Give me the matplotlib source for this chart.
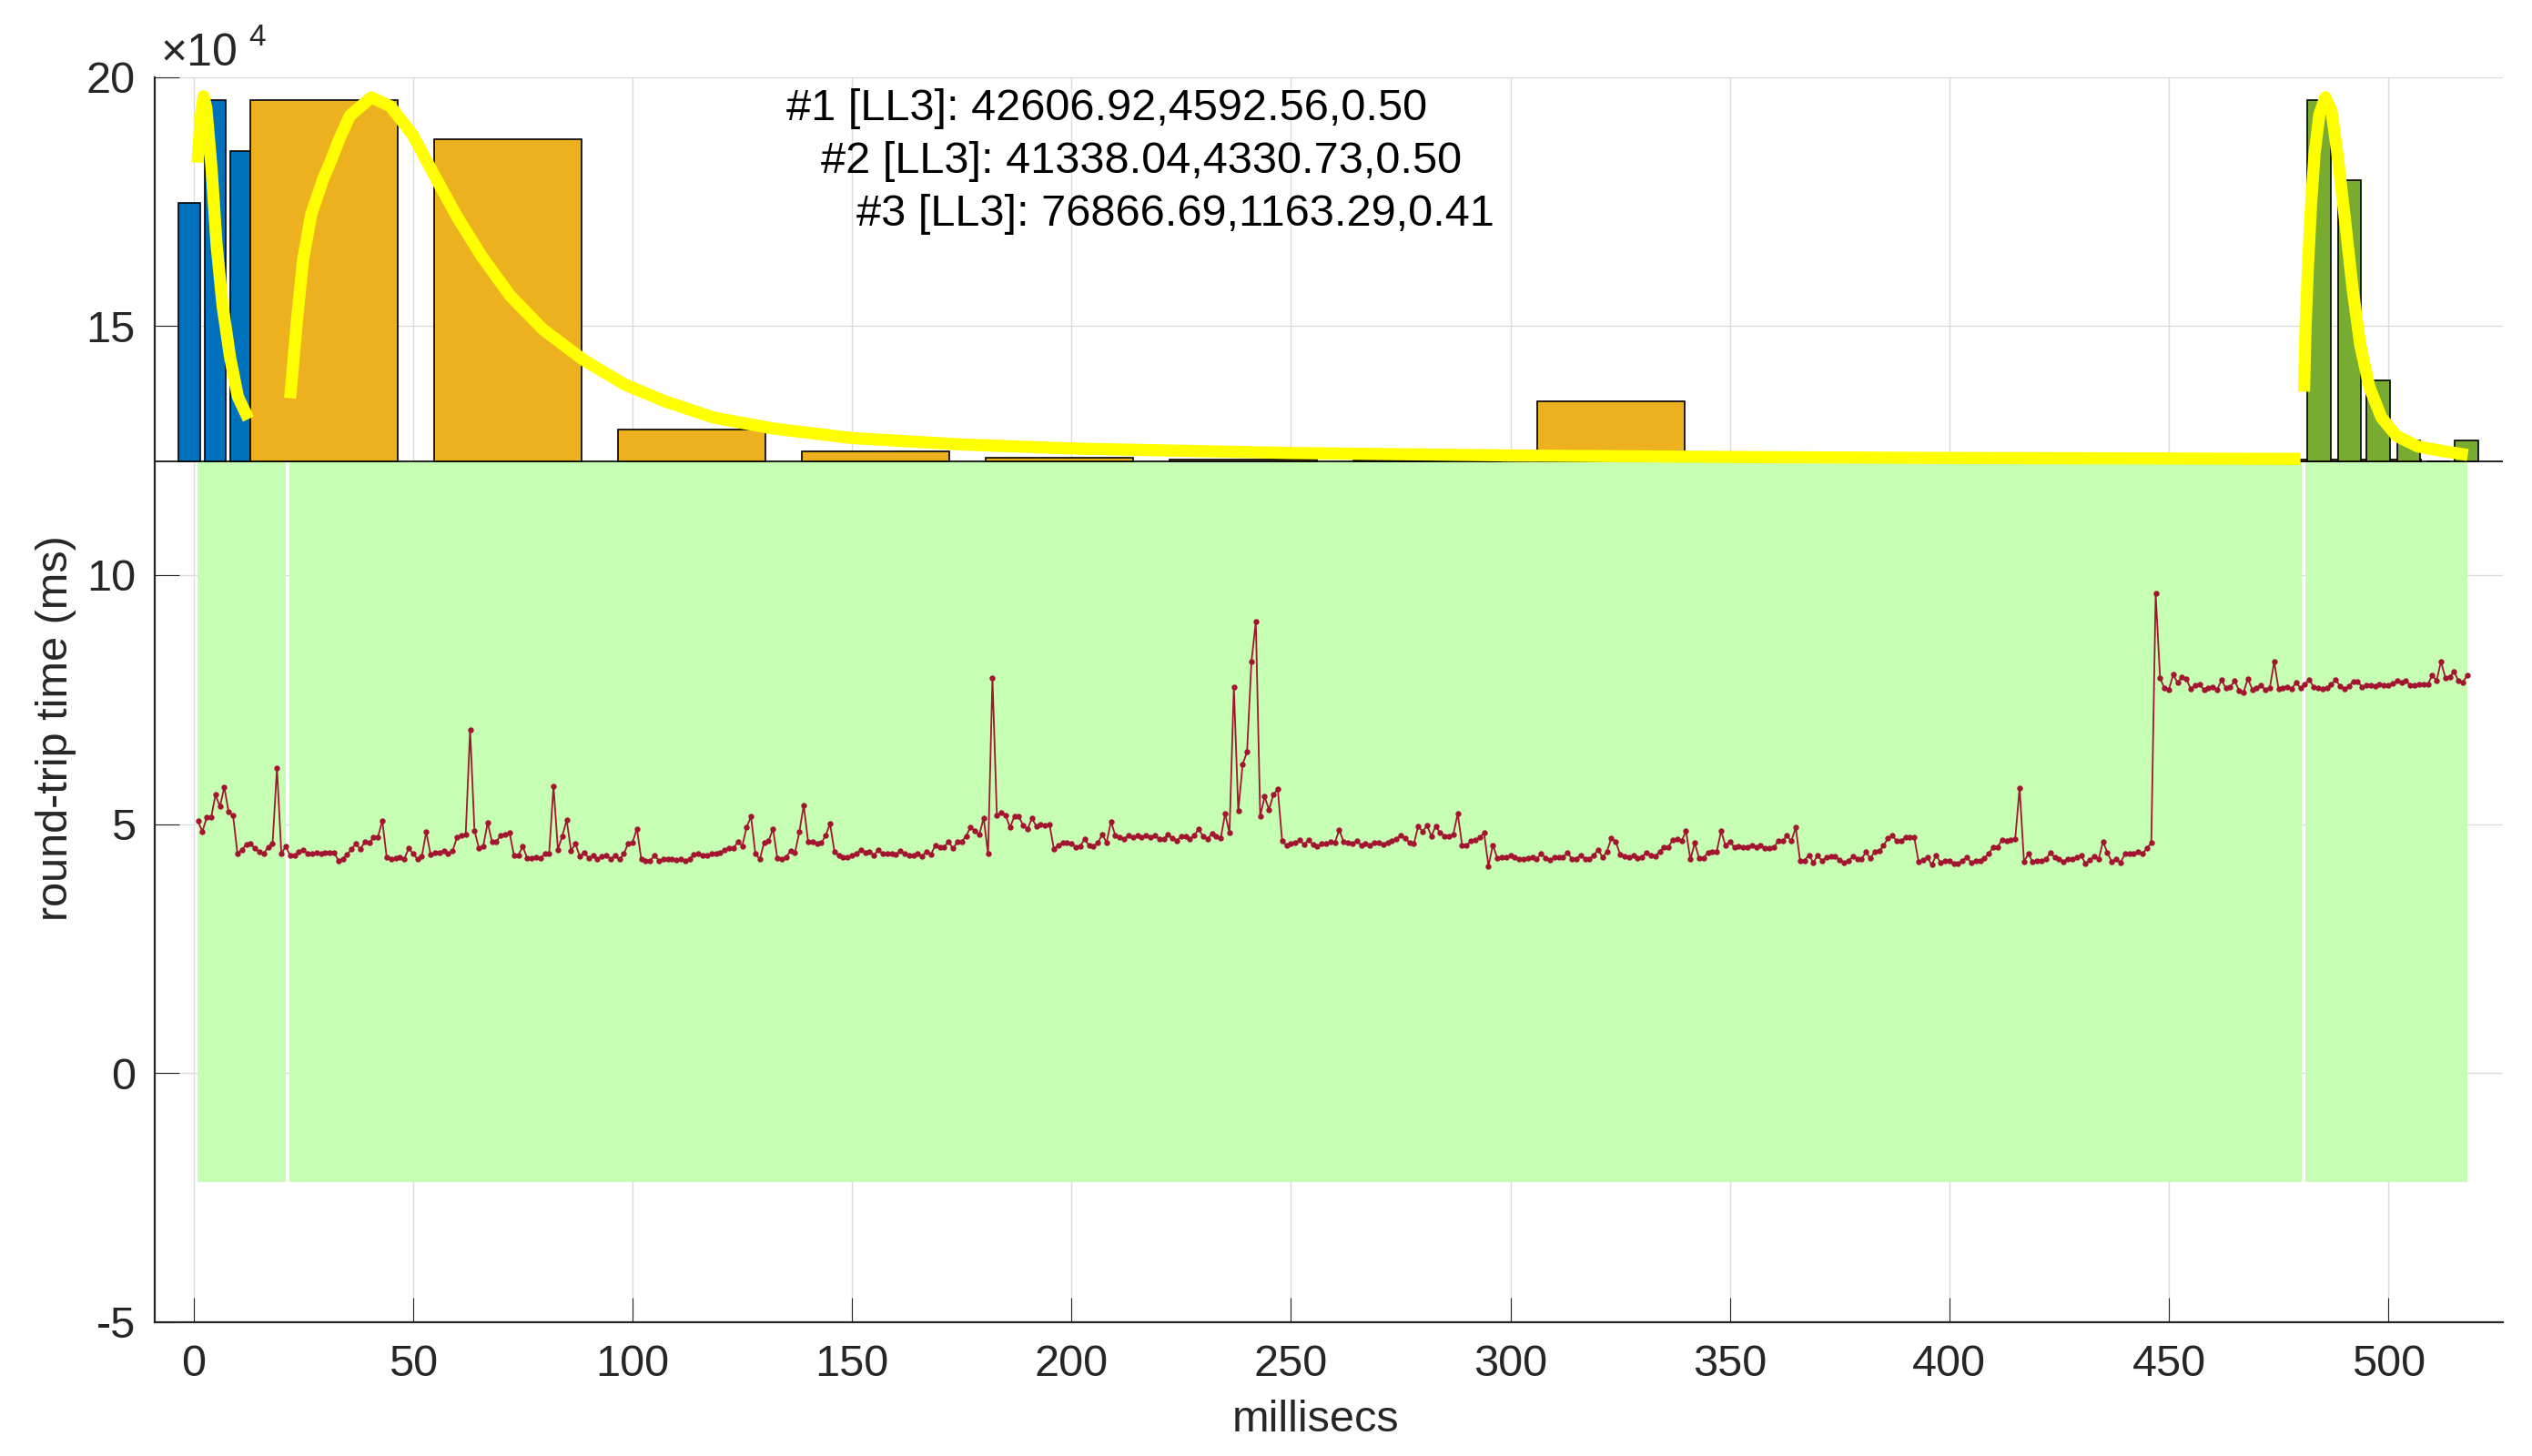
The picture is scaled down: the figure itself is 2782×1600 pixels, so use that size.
import numpy as np
import matplotlib
matplotlib.use('Agg')
import matplotlib.pyplot as plt
from matplotlib.patches import Rectangle

plt.rcParams['font.family'] = ['Liberation Sans', 'DejaVu Sans']
plt.rcParams['axes.unicode_minus'] = False

# round-trip time samples (ms), one per millisec starting at 1
rtt = [
    5.06, 4.85, 5.13, 5.13, 5.59, 5.35, 5.74, 5.24, 5.17, 4.41,
    4.49, 4.59, 4.60, 4.51, 4.44, 4.41, 4.54, 4.61, 6.13, 4.41,
    4.55, 4.37, 4.37, 4.45, 4.49, 4.40, 4.40, 4.43, 4.40, 4.43,
    4.43, 4.43, 4.27, 4.30, 4.39, 4.50, 4.60, 4.50, 4.64, 4.62,
    4.73, 4.74, 5.07, 4.33, 4.30, 4.32, 4.33, 4.30, 4.51, 4.41,
    4.30, 4.35, 4.84, 4.39, 4.43, 4.43, 4.46, 4.41, 4.46, 4.73,
    4.77, 4.80, 6.90, 4.87, 4.52, 4.56, 5.03, 4.64, 4.65, 4.78,
    4.80, 4.82, 4.37, 4.38, 4.55, 4.32, 4.32, 4.33, 4.31, 4.40,
    4.40, 5.76, 4.49, 4.76, 5.08, 4.47, 4.60, 4.35, 4.43, 4.32,
    4.37, 4.29, 4.35, 4.38, 4.30, 4.37, 4.29, 4.40, 4.61, 4.63,
    4.91, 4.29, 4.27, 4.26, 4.37, 4.27, 4.29, 4.29, 4.29, 4.28,
    4.29, 4.26, 4.30, 4.39, 4.40, 4.38, 4.38, 4.40, 4.40, 4.43,
    4.48, 4.51, 4.51, 4.65, 4.56, 4.94, 5.15, 4.40, 4.30, 4.63,
    4.66, 4.91, 4.31, 4.30, 4.34, 4.46, 4.42, 4.84, 5.38, 4.65,
    4.65, 4.60, 4.62, 4.77, 5.01, 4.45, 4.37, 4.33, 4.33, 4.38,
    4.41, 4.48, 4.43, 4.45, 4.38, 4.48, 4.40, 4.40, 4.41, 4.39,
    4.46, 4.40, 4.38, 4.38, 4.40, 4.36, 4.45, 4.39, 4.58, 4.54,
    4.54, 4.65, 4.51, 4.64, 4.65, 4.76, 4.94, 4.86, 4.79, 5.12,
    4.40, 7.94, 5.18, 5.23, 5.18, 4.93, 5.16, 5.15, 4.98, 4.90,
    5.12, 4.95, 5.00, 4.97, 4.99, 4.50, 4.58, 4.62, 4.62, 4.61,
    4.54, 4.56, 4.70, 4.57, 4.56, 4.62, 4.79, 4.63, 5.05, 4.77,
    4.74, 4.70, 4.77, 4.73, 4.77, 4.73, 4.77, 4.73, 4.77, 4.70,
    4.70, 4.79, 4.71, 4.66, 4.76, 4.75, 4.70, 4.78, 4.90, 4.75,
    4.70, 4.81, 4.76, 4.71, 5.21, 4.82, 7.76, 5.26, 6.20, 6.45,
    8.26, 9.06, 5.16, 5.55, 5.29, 5.59, 5.70, 4.66, 4.57, 4.60,
    4.63, 4.68, 4.59, 4.68, 4.59, 4.55, 4.60, 4.60, 4.64, 4.63,
    4.88, 4.65, 4.63, 4.60, 4.66, 4.58, 4.60, 4.58, 4.63, 4.63,
    4.59, 4.63, 4.66, 4.70, 4.77, 4.71, 4.63, 4.60, 4.96, 4.85,
    4.97, 4.76, 4.96, 4.82, 4.76, 4.76, 4.80, 5.21, 4.57, 4.57,
    4.66, 4.68, 4.73, 4.82, 4.16, 4.58, 4.32, 4.33, 4.33, 4.37,
    4.34, 4.30, 4.30, 4.32, 4.34, 4.30, 4.41, 4.32, 4.28, 4.33,
    4.33, 4.33, 4.43, 4.30, 4.30, 4.38, 4.30, 4.30, 4.37, 4.49,
    4.33, 4.45, 4.72, 4.65, 4.39, 4.35, 4.34, 4.37, 4.32, 4.34,
    4.43, 4.38, 4.35, 4.45, 4.54, 4.54, 4.69, 4.70, 4.66, 4.86,
    4.29, 4.62, 4.31, 4.32, 4.43, 4.44, 4.45, 4.86, 4.57, 4.65,
    4.54, 4.55, 4.53, 4.54, 4.58, 4.54, 4.57, 4.51, 4.51, 4.53,
    4.66, 4.66, 4.77, 4.66, 4.93, 4.26, 4.27, 4.38, 4.23, 4.37,
    4.26, 4.34, 4.35, 4.35, 4.28, 4.23, 4.26, 4.35, 4.30, 4.30,
    4.44, 4.31, 4.45, 4.46, 4.57, 4.71, 4.77, 4.66, 4.67, 4.73,
    4.73, 4.73, 4.24, 4.28, 4.33, 4.18, 4.38, 4.22, 4.26, 4.26,
    4.20, 4.20, 4.27, 4.34, 4.22, 4.27, 4.27, 4.32, 4.41, 4.54,
    4.54, 4.68, 4.66, 4.68, 4.70, 5.73, 4.25, 4.40, 4.24, 4.26,
    4.27, 4.29, 4.43, 4.33, 4.30, 4.25, 4.30, 4.30, 4.33, 4.37,
    4.21, 4.28, 4.35, 4.29, 4.65, 4.43, 4.24, 4.30, 4.23, 4.40,
    4.41, 4.41, 4.45, 4.40, 4.52, 4.62, 9.63, 7.93, 7.73, 7.70,
    8.00, 7.84, 7.96, 7.91, 7.71, 7.79, 7.80, 7.70, 7.73, 7.75,
    7.70, 7.89, 7.73, 7.75, 7.88, 7.68, 7.64, 7.92, 7.70, 7.73,
    7.79, 7.69, 7.73, 8.26, 7.71, 7.74, 7.76, 7.72, 7.84, 7.73,
    7.80, 7.90, 7.75, 7.73, 7.71, 7.74, 7.80, 7.90, 7.77, 7.71,
    7.77, 7.86, 7.86, 7.76, 7.79, 7.78, 7.77, 7.81, 7.79, 7.78,
    7.82, 7.87, 7.84, 7.88, 7.79, 7.79, 7.80, 7.81, 7.80, 7.99,
    7.88, 8.26, 7.94, 7.96, 8.06, 7.87, 7.85, 7.99,
]
t = np.arange(1, len(rtt) + 1)

# segments (green shading)
seg_start = [0.9, 21.9, 481.1]
seg_end = [21.1, 480.3, 518.1]
seg_low, seg_high = -2.19, 12.29

# histograms drawn on top of the segments (bar tops, same y units)
hist_base = 12.29
blue_x = [-0.98, 4.87, 10.70]
blue_top = [17.47, 19.54, 18.52]
orange_x = [29.65, 71.55, 113.45, 155.35, 197.25, 239.15, 281.05,
            322.95, 364.85, 406.75, 448.65, 490.55]
orange_top = [19.54, 18.75, 12.93, 12.48, 12.36, 12.32, 12.30,
              13.49, 12.30, 12.30, 12.30, 12.32]
green_x = [484.2, 491.15, 497.75, 504.65, 511.3, 517.85]
green_top = [19.53, 17.93, 13.90, 12.70, 12.29, 12.70]

fit1_x = [0.9, 1.6, 2.28, 2.9, 4.1, 5.24, 6.6, 8.3, 10.1, 12.5]
fit1_y = [18.28, 19.19, 19.61, 19.38, 18.16, 16.63, 15.41, 14.38, 13.58, 13.13]
fit2_x = [22.0, 23.55, 24.95, 26.8, 29.6, 31.4, 33.3, 35.6, 40.5, 44.85,
          49.95, 55.0, 60.1, 65.7, 72.2, 79.6, 88.8, 98.1, 107.3, 118.5,
          132.1, 150, 175, 200, 250, 300, 350, 400, 450, 480]
fit2_y = [13.55, 15.11, 16.33, 17.24, 17.97, 18.34, 18.77, 19.22, 19.59, 19.41,
          18.83, 18.0, 17.18, 16.39, 15.6, 14.93, 14.32, 13.83, 13.49, 13.16,
          12.94, 12.75, 12.62, 12.54, 12.45, 12.40, 12.37, 12.35, 12.34, 12.33]
fit3_x = [480.8, 481.15, 481.7, 482.4, 483.2, 484.3, 485.65, 487.05, 488.4,
          490.15, 491.9, 493.6, 495.7, 498.45, 501.9, 506.75, 512.3, 518.1]
fit3_y = [13.68, 14.99, 16.21, 17.43, 18.46, 19.25, 19.59, 19.32, 18.46,
          17.12, 15.72, 14.62, 13.77, 13.16, 12.79, 12.58, 12.49, 12.41]

fit_labels = ['#1 [LL3]: 42606.92,4592.56,0.50',
              '#2 [LL3]: 41338.04,4330.73,0.50',
              '#3 [LL3]: 76866.69,1163.29,0.41']

W, H = 2782, 1600
fig = plt.figure(figsize=(W / 200, H / 200), dpi=200)
ax = fig.add_axes([170 / W, 1 - 1453 / H, (2750 - 170) / W, (1453 - 84.5) / H])

ax.set_xlim(-8.85, 526.1)
ax.set_ylim(-5, 20)

for a, b in zip(seg_start, seg_end):
    ax.add_patch(Rectangle((a, seg_low), b - a, seg_high - seg_low,
                           facecolor='#C6FEB4', edgecolor='none', zorder=1))

ax.plot(t, rtt, '-', color='#A2142F', lw=0.65, marker='o', ms=2.3,
        mew=0, zorder=3)

ax.axhline(hist_base, color='k', lw=0.6, zorder=4)
for xs, tops, w, c in [(blue_x, blue_top, 4.82, '#0072BD'),
                       (orange_x, orange_top, 33.6, '#EDB120'),
                       (green_x, green_top, 5.35, '#77AC30')]:
    ax.bar(xs, np.array(tops) - hist_base, width=w, bottom=hist_base,
           color=c, edgecolor='k', linewidth=0.6, zorder=5)

for fx, fy in [(fit1_x, fit1_y), (fit2_x, fit2_y), (fit3_x, fit3_y)]:
    ax.plot(fx, fy, color='#FFFF00', lw=4.8, solid_capstyle='butt',
            solid_joinstyle='round', zorder=6)

ax.set_xticks(np.arange(0, 501, 50))
ax.set_yticks(np.arange(-5, 21, 5))
ax.grid(True, color='#DCDCDC', lw=0.5)
ax.set_axisbelow(True)
for s in ['top', 'right']:
    ax.spines[s].set_visible(False)
for s in ['left', 'bottom']:
    ax.spines[s].set_color('#262626')
    ax.spines[s].set_linewidth(0.8)
ax.tick_params(direction='in', length=9.7, width=0.4, colors='#262626',
               labelsize=17.5)
ax.tick_params(axis='y', pad=7.6)
ax.tick_params(axis='x', pad=8.5)

fig.text(1446 / W, 1 - 1573 / H, 'millisecs', ha='center', va='baseline',
         fontsize=17.5, color='#262626')
fig.text(62 / W, 1 - 800 / H, 'round-trip time (ms)', ha='center', va='center',
         rotation=90, fontsize=17.5, color='#262626')
fig.text(176.8 / W, 1 - 71.7 / H, '\u00d710', ha='left', va='baseline',
         fontsize=18, color='#262626')
fig.text(272.8 / W, 1 - 50 / H, '4', ha='left', va='baseline',
         fontsize=12, color='#262626')

for i, (lx, ly) in enumerate([(864, 131.7), (902, 190), (940.6, 248)]):
    fig.text(lx / W, 1 - ly / H, fit_labels[i], ha='left', va='baseline',
             fontsize=17.5, color='k')

fig.savefig('out.png', dpi=200)
